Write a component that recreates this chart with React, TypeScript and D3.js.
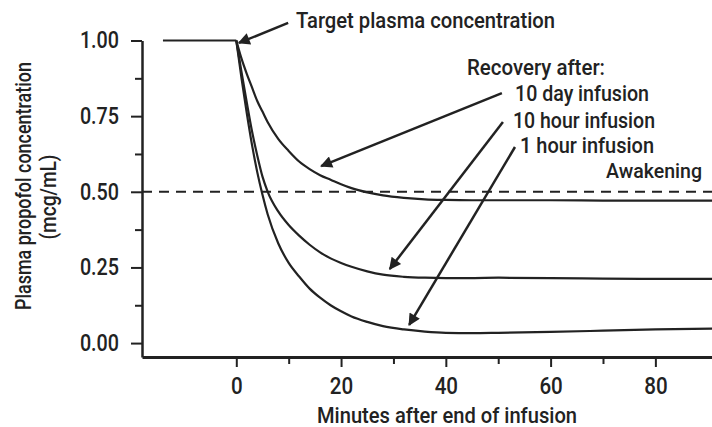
import React, { useEffect, useRef } from 'react';
import { select, scaleLinear, line, curveMonotoneX, axisLeft, axisBottom, format } from 'd3';

// minutes after end of infusion, shared by the three recovery curves
const minutes = [0, 1, 2, 3, 4, 5, 6, 8, 10, 12, 14, 16, 18, 20, 22, 25, 28, 32, 36, 40, 45, 50, 60, 70, 80, 91];
const tenDay = [1, 0.94, 0.89, 0.845, 0.8, 0.765, 0.73, 0.675, 0.635, 0.6, 0.575, 0.555, 0.54, 0.525, 0.512, 0.498, 0.488, 0.48, 0.475, 0.473, 0.472, 0.472, 0.472, 0.471, 0.471, 0.471];
const tenHour = [1, 0.895, 0.795, 0.7, 0.62, 0.55, 0.5, 0.435, 0.39, 0.355, 0.325, 0.3, 0.28, 0.265, 0.252, 0.237, 0.226, 0.219, 0.216, 0.215, 0.215, 0.216, 0.215, 0.213, 0.212, 0.212];
const oneHour = [1, 0.875, 0.76, 0.655, 0.565, 0.49, 0.425, 0.33, 0.265, 0.22, 0.18, 0.15, 0.125, 0.105, 0.088, 0.07, 0.056, 0.045, 0.038, 0.034, 0.033, 0.034, 0.037, 0.041, 0.045, 0.048];

// steady state during infusion
const infusionMinutes = [-14, 0];
const infusionLevel = [1, 1];

const awakeningLevel = 0.5;

const yTicks = [0, 0.25, 0.5, 0.75, 1];
const yMinorTicks = [0.125, 0.375, 0.625, 0.875];
const xTicks = [0, 20, 40, 60, 80];
const xMinorTicks = [10, 30, 50, 70];

// annotation arrows: [fromMinute, fromValue, toMinute, toValue]
const arrows = [
  [9.9, 1.058, 0.5, 0.992],
  [50.7, 0.826, 16.2, 0.585],
  [50.9, 0.731, 29.3, 0.245],
  [53.2, 0.648, 33.0, 0.06],
];

const INK = '#222';
const FONT = "Roboto, 'DejaVu Sans Condensed', sans-serif";

// squeeze a label to the condensed width seen in the figure
const tickWidth = (s: string) => s.replace(/[^0-9]/g, '').length * 11.7 + (s.includes('.') ? 4 : 0);

export default function App() {
  const svgRef = useRef<SVGSVGElement>(null);

  useEffect(() => {
    if (!svgRef.current) return;
    const width = 712;
    const height = 427;

    const svg = select(svgRef.current);
    svg.selectAll('*').remove();
    svg.attr('width', width).attr('height', height).attr('viewBox', `0 0 ${width} ${height}`);

    const x = scaleLinear().domain([-18, 91]).range([142, 713]);
    const y = scaleLinear().domain([-0.046, 1]).range([357, 40.5]);

    const defs = svg.append('defs');
    defs.append('marker')
      .attr('id', 'arrowHead')
      .attr('viewBox', '0 -5 10 10')
      .attr('refX', 9)
      .attr('refY', 0)
      .attr('markerUnits', 'userSpaceOnUse')
      .attr('markerWidth', 20)
      .attr('markerHeight', 12)
      .attr('orient', 'auto')
      .append('path')
      .attr('d', 'M0,-5L10,0L0,5Z')
      .attr('fill', INK);

    // Y axis
    const yAxis = svg.append('g')
      .attr('transform', `translate(${x.range()[0]},0)`)
      .call(axisLeft(y).tickValues(yTicks).tickSize(11).tickSizeOuter(0).tickPadding(12).tickFormat(format('.2f')));
    yAxis.select('.domain').attr('stroke', INK).attr('stroke-width', 2.5);
    yAxis.selectAll('.tick line').attr('stroke', INK).attr('stroke-width', 2);
    yAxis.selectAll<SVGTextElement, number>('text')
      .attr('fill', INK)
      .attr('textLength', function () { return tickWidth(this.textContent || ''); })
      .attr('lengthAdjust', 'spacingAndGlyphs')
      .style('font-family', FONT)
      .style('font-weight', 500)
      .style('font-size', '23px');

    const yMinor = svg.append('g')
      .attr('transform', `translate(${x.range()[0]},0)`)
      .call(axisLeft(y).tickValues(yMinorTicks).tickSize(7).tickSizeOuter(0).tickFormat(() => ''));
    yMinor.select('.domain').remove();
    yMinor.selectAll('.tick line').attr('stroke', INK).attr('stroke-width', 2);

    // X axis
    const xAxis = svg.append('g')
      .attr('transform', `translate(0,${y.range()[0]})`)
      .call(axisBottom(x).tickValues(xTicks).tickSize(10).tickSizeOuter(0).tickPadding(10));
    xAxis.select('.domain').attr('stroke', INK).attr('stroke-width', 3);
    xAxis.selectAll('.tick line').attr('stroke', INK).attr('stroke-width', 2);
    xAxis.selectAll<SVGTextElement, number>('text')
      .attr('fill', INK)
      .attr('textLength', function () { return tickWidth(this.textContent || ''); })
      .attr('lengthAdjust', 'spacingAndGlyphs')
      .style('font-family', FONT)
      .style('font-weight', 500)
      .style('font-size', '24px');

    const xMinor = svg.append('g')
      .attr('transform', `translate(0,${y.range()[0]})`)
      .call(axisBottom(x).tickValues(xMinorTicks).tickSize(7).tickSizeOuter(0).tickFormat(() => ''));
    xMinor.select('.domain').remove();
    xMinor.selectAll('.tick line').attr('stroke', INK).attr('stroke-width', 2);

    // Awakening threshold
    svg.append('line')
      .attr('x1', x.range()[0])
      .attr('x2', x.range()[1])
      .attr('y1', y(awakeningLevel))
      .attr('y2', y(awakeningLevel))
      .attr('stroke', INK)
      .attr('stroke-width', 2)
      .attr('stroke-dasharray', '10 7');

    // Curves
    const lineGen = line<[number, number]>()
      .x(d => x(d[0]))
      .y(d => y(d[1]))
      .curve(curveMonotoneX);

    const series = [
      infusionMinutes.map((m, i) => [m, infusionLevel[i]] as [number, number]),
      minutes.map((m, i) => [m, tenDay[i]] as [number, number]),
      minutes.map((m, i) => [m, tenHour[i]] as [number, number]),
      minutes.map((m, i) => [m, oneHour[i]] as [number, number]),
    ];
    svg.append('g')
      .selectAll('path')
      .data(series)
      .enter()
      .append('path')
      .attr('d', d => lineGen(d))
      .attr('fill', 'none')
      .attr('stroke', INK)
      .attr('stroke-width', 2.2);

    // Arrows
    svg.append('g')
      .selectAll('line')
      .data(arrows)
      .enter()
      .append('line')
      .attr('x1', d => x(d[0]))
      .attr('y1', d => y(d[1]))
      .attr('x2', d => x(d[2]))
      .attr('y2', d => y(d[3]))
      .attr('stroke', INK)
      .attr('stroke-width', 2.5)
      .attr('marker-end', 'url(#arrowHead)');

    // Text labels: [text, x, baseline, width, size]
    const labels: [string, number, number, number, number][] = [
      ['Target plasma concentration', 296, 28, 259, 22],
      ['Recovery after:', 467, 75, 138, 22],
      ['10 day infusion', 515, 101, 134, 22],
      ['10 hour infusion', 513, 128, 142, 22],
      ['1 hour infusion', 520, 153, 134, 22],
      ['Awakening', 606, 178, 96, 20],
      ['Minutes after end of infusion', 317, 423, 260, 22],
    ];
    svg.append('g')
      .selectAll('text')
      .data(labels)
      .enter()
      .append('text')
      .attr('x', d => d[1])
      .attr('y', d => d[2])
      .attr('textLength', d => d[3])
      .attr('lengthAdjust', 'spacingAndGlyphs')
      .attr('fill', INK)
      .style('font-family', FONT)
      .style('font-weight', 500)
      .style('font-size', d => `${d[4]}px`)
      .text(d => d[0]);

    svg.append('text')
      .attr('transform', 'translate(31,186) rotate(-90)')
      .attr('text-anchor', 'middle')
      .attr('textLength', 248)
      .attr('lengthAdjust', 'spacingAndGlyphs')
      .attr('fill', INK)
      .style('font-family', FONT)
      .style('font-weight', 500)
      .style('font-size', '22px')
      .text('Plasma propofol concentration');

    svg.append('text')
      .attr('transform', 'translate(56,197) rotate(-90)')
      .attr('text-anchor', 'middle')
      .attr('textLength', 85)
      .attr('lengthAdjust', 'spacingAndGlyphs')
      .attr('fill', INK)
      .style('font-family', FONT)
      .style('font-weight', 500)
      .style('font-size', '22px')
      .text('(mcg/mL)');
  }, []);

  return (
    <svg
      ref={svgRef}
      style={{ position: 'absolute', left: 0, top: 0, display: 'block', background: '#fff' }}
    />
  );
}
